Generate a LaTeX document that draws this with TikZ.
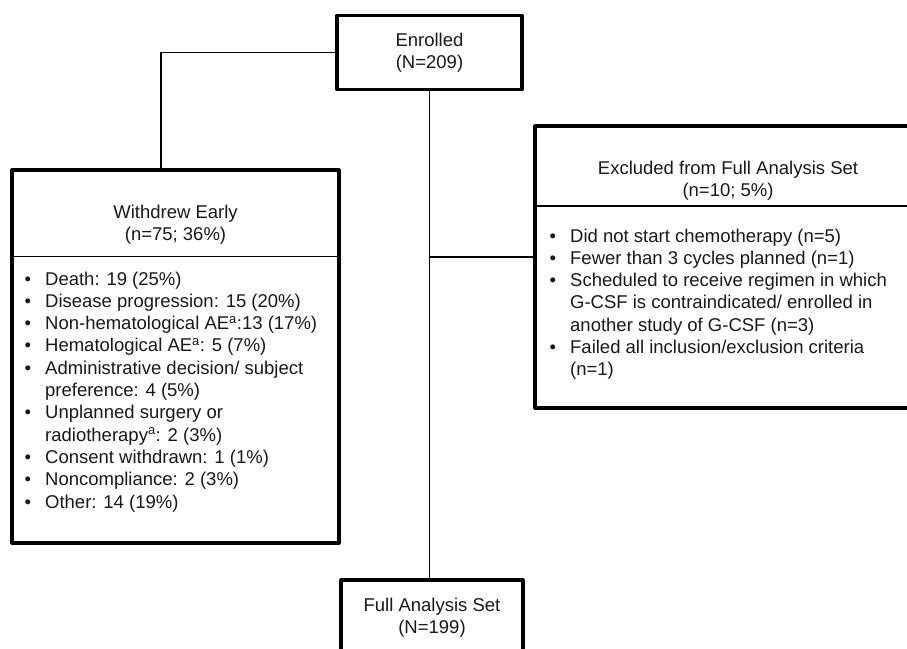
\documentclass[tikz,border=0pt]{standalone}
\usepackage{fontspec}
\setmainfont{Liberation Sans}
\begin{document}
\begin{tikzpicture}[x=1pt,y=-1pt,
  box/.style={draw, line width=3.2pt, line join=round, inner sep=0pt, align=center},
  conn/.style={line width=1.3pt},
  every node/.style={font=\fontsize{18.5}{22.3}\selectfont, text=black!90}]
\clip (0,0) rectangle (907,648);
\fill[white] (0,0) rectangle (907,648);
% boxes
\node[box, minimum width=185pt, minimum height=74pt] (enr) at (429.5,52.5) {Enrolled\\(N=209)};
\node[box, minimum width=327pt, minimum height=373pt] (wd) at (175.5,356.5) {};
\node[box, minimum width=386pt, minimum height=282pt] (exc) at (728,267) {};
\node[box, minimum width=182pt, minimum height=75pt] (fas) at (432,617.5) {Full Analysis Set\\(N=199)};
% headers
\node[align=center, inner sep=0pt] (wdh) at (175.5,225) {Withdrew Early\\(n=75; 36\%)};
\node[align=center, inner sep=0pt] (exch) at (728,180.5) {Excluded from Full Analysis Set\\(n=10; 5\%)};
% dividers
\draw[conn] ([yshift=-88pt]wd.north west) -- ([yshift=-88pt]wd.north east);
\draw[conn] ([yshift=-81.5pt]exc.north west) -- ([yshift=-81.5pt]exc.north east);
% lists
\node[anchor=base west, inner sep=0pt] (wdl) at (24.5,285) {\begin{tabular}[t]{@{}l@{\hspace{14pt}}l@{}}
\textbullet & Death: 19 (25\%)\\
\textbullet & Disease progression: 15 (20\%)\\
\textbullet & Non-hematological AE\textsuperscript{a}:13 (17\%)\\
\textbullet & Hematological AE\textsuperscript{a}: 5 (7\%)\\
\textbullet & Administrative decision/ subject\\
 & preference: 4 (5\%)\\
\textbullet & Unplanned surgery or\\
 & radiotherapy\textsuperscript{a}: 2 (3\%)\\
\textbullet & Consent withdrawn: 1 (1\%)\\
\textbullet & Noncompliance: 2 (3\%)\\
\textbullet & Other: 14 (19\%)
\end{tabular}};
\node[anchor=base west, inner sep=0pt] (excl) at (549.5,242) {\begin{tabular}[t]{@{}l@{\hspace{14pt}}l@{}}
\textbullet & Did not start chemotherapy (n=5)\\
\textbullet & Fewer than 3 cycles planned (n=1)\\
\textbullet & Scheduled to receive regimen in which\\
 & G-CSF is contraindicated/ enrolled in\\
 & another study of G-CSF (n=3)\\
\textbullet & Failed all inclusion/exclusion criteria\\
 & (n=1)
\end{tabular}};
% connectors
\draw[conn] (enr.west) -| ([xshift=-14.5pt]wd.north);
\draw[conn] (enr.south) -- (enr.south |- fas.north);
\draw[conn] ([yshift=10pt]exc.west) -- ([yshift=10pt]exc.west -| enr.south);
\end{tikzpicture}
\end{document}
